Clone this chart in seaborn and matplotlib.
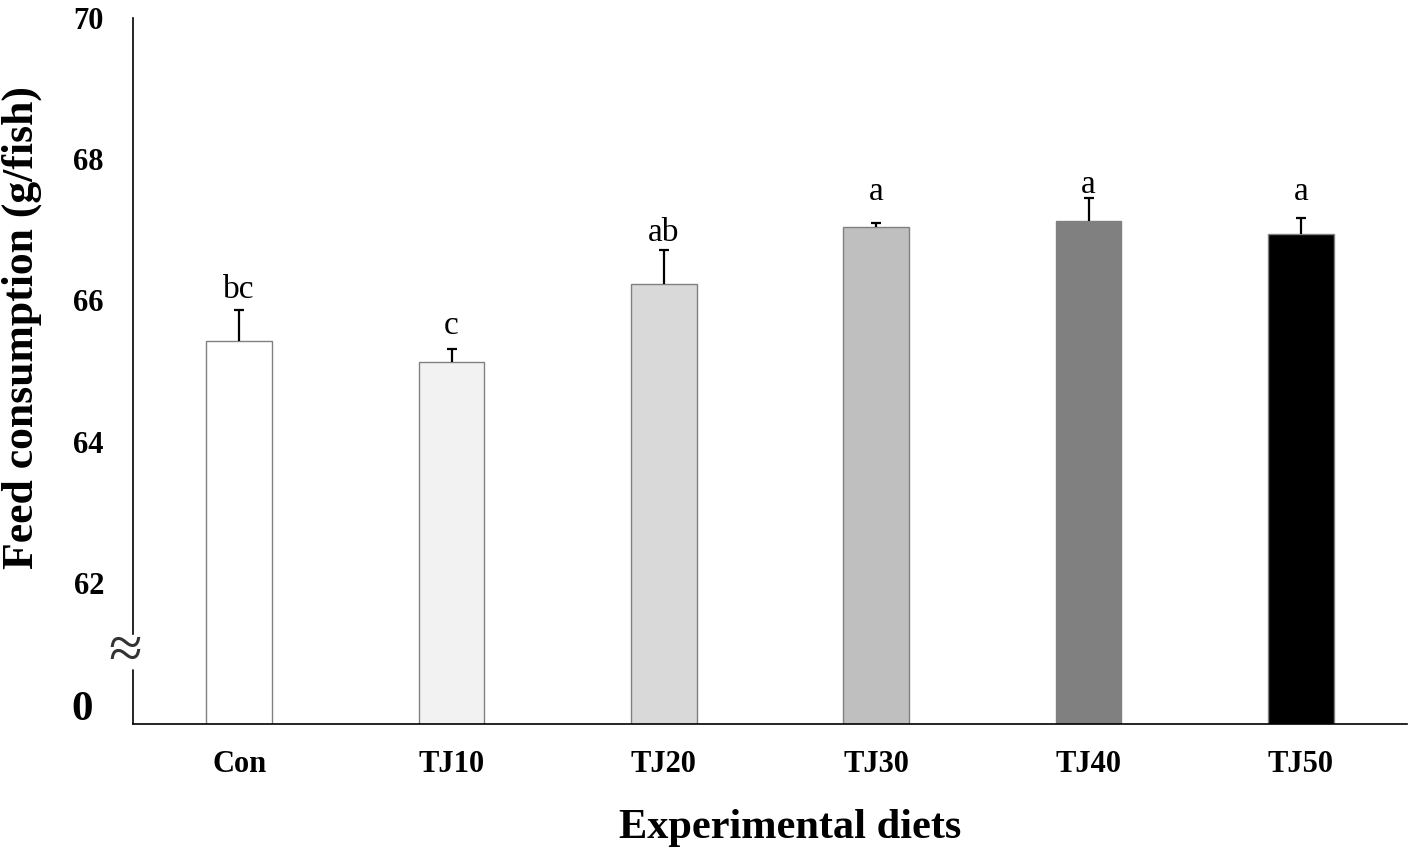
import matplotlib
matplotlib.use("Agg")
import matplotlib.pyplot as plt
import seaborn as sns
import numpy as np

diets = ["Con", "TJ10", "TJ20", "TJ30", "TJ40", "TJ50"]
feed = [65.43, 65.13, 66.23, 67.04, 67.12, 66.94]
sd = [0.44, 0.18, 0.48, 0.06, 0.33, 0.23]
letters = ["bc", "c", "ab", "a", "a", "a"]
letter_y = [66.03, 65.53, 66.84, 67.42, 67.52, 67.42]
colors = ["#ffffff", "#f2f2f2", "#d9d9d9", "#bfbfbf", "#808080", "#000000"]
ytick_vals = [62, 64, 66, 68, 70]

sns.set_style("white")
plt.rcParams["font.family"] = ["Liberation Serif", "DejaVu Serif"]
plt.rcParams["text.color"] = "black"
plt.rcParams["axes.labelcolor"] = "black"
plt.rcParams["xtick.color"] = "black"
plt.rcParams["ytick.color"] = "black"

fig = plt.figure(figsize=(14.17, 8.56), dpi=100)
ax = fig.add_axes([0.0939, 0.1542, 0.8991, 0.8248])

sns.barplot(x=diets, y=feed, hue=diets, palette=colors, width=0.31,
            edgecolor="#808080", linewidth=1.0, legend=False, ax=ax, saturation=1)

xs = np.arange(len(diets))
eb = ax.errorbar(xs, feed, yerr=[np.zeros(len(sd)), sd], fmt="none", ecolor="black",
                 elinewidth=1.6, capsize=3.5, capthick=1.6, zorder=5)
# only the upper cap is drawn in the reference
eb[1][0].set_visible(False)

for x, y, t in zip(xs, letter_y, letters):
    ax.text(x, y, t, ha="center", va="baseline", fontsize=24)

ax.set_xlim(-0.5, 5.5)
ax.set_ylim(60, 70)

ax.set_yticks(ytick_vals)
ax.set_yticklabels([str(v) for v in ytick_vals], fontweight="bold", fontsize=22)
for lab in ax.get_xticklabels():
    lab.set_fontweight("bold")
    lab.set_fontsize(22)
ax.tick_params(axis="both", length=0)
ax.tick_params(axis="x", pad=19)
ax.tick_params(axis="y", pad=21)

# "0" label at the bottom of the broken axis
ax.annotate("0", (-0.5, 60.2), xytext=(-29, 0), textcoords="offset points",
            ha="right", va="center", fontsize=31, fontweight="bold",
            annotation_clip=False)

for s in ["top", "right"]:
    ax.spines[s].set_visible(False)
ax.spines["left"].set_bounds(61.28, 70)
ax.spines["left"].set_color("black")
ax.spines["bottom"].set_color("black")
ax.spines["left"].set_linewidth(1.2)
ax.spines["bottom"].set_linewidth(1.2)
ax.plot([-0.5, -0.5], [60, 60.76], color="black", lw=1.2, clip_on=False)
ax.annotate("\u2248", (-0.5, 61.0), xytext=(-6, 0), textcoords="offset points",
            ha="center", va="center", fontsize=44, color="#333333",
            annotation_clip=False)

ax.set_xlabel("Experimental diets", fontsize=30.5, fontweight="bold")
ax.xaxis.set_label_coords(0.516, -0.12)
ax.set_ylabel("Feed consumption (g/fish)", fontsize=31.5, fontweight="bold")
ax.yaxis.set_label_coords(-0.0714, 0.561)
ax.grid(False)

fig.savefig("out.png", dpi=100)
